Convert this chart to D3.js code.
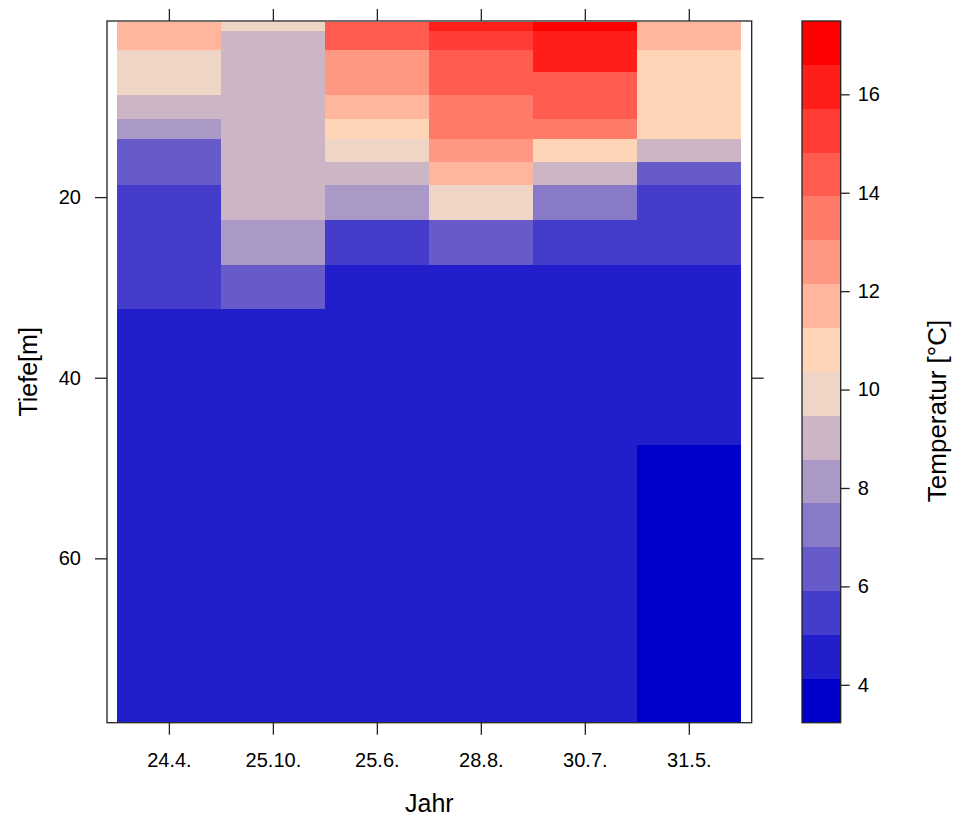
<!DOCTYPE html>
<html>
<head>
<meta charset="utf-8">
<script src="https://cdn.jsdelivr.net/npm/d3@7"></script>
<style>
  html, body { margin: 0; padding: 0; background: #fff; }
  svg { display: block; }
  text { font-family: "Liberation Sans", Arial, sans-serif; fill: #000; }
</style>
</head>
<body>
<svg id="chart" width="956" height="816"></svg>
<script>
// ---------------- data ----------------
const dates = ["24.4.", "25.10.", "25.6.", "28.8.", "30.7.", "31.5."];
// depth layer edges [m]
const depthEdges = [0.6, 1.6, 3.7, 6.2, 8.7, 11.3, 13.6, 16.1, 18.7, 22.5, 27.5, 32.4, 47.4, 78.1];
// temperatures [°C] per layer (top to bottom) for each date
const temp_24_4  = [11.6, 11.5, 10.0, 9.8, 9.0, 8.1, 6.4, 6.2, 5.5, 5.3, 5.2, 4.6, 4.4];
const temp_25_10 = [9.7, 9.2, 9.1, 9.1, 9.0, 9.0, 9.0, 8.9, 8.8, 8.2, 6.5, 4.7, 4.5];
const temp_25_6  = [14.5, 14.2, 12.8, 12.5, 11.7, 10.8, 9.9, 9.1, 8.2, 5.5, 4.9, 4.6, 4.4];
const temp_28_8  = [16.2, 15.3, 14.6, 14.1, 13.6, 13.2, 12.4, 11.5, 9.8, 6.3, 4.9, 4.6, 4.4];
const temp_30_7  = [16.9, 16.3, 16.0, 14.6, 14.2, 13.4, 10.9, 9.1, 7.3, 5.6, 4.9, 4.5, 4.3];
const temp_31_5  = [11.9, 11.6, 11.1, 10.9, 10.8, 10.7, 9.0, 6.4, 5.7, 5.3, 4.8, 4.3, 4.0];
const depthTicks = [20, 40, 60];
const keyTicks = [4, 6, 8, 10, 12, 14, 16];
const keyRange = [3.23, 17.49];
const nBands = 16;
const paletteAnchors = ["#0000CD", "#FFE4C4", "#FF0000"]; // blue3 -> bisque -> red

const tempSeries = [temp_24_4, temp_25_10, temp_25_6, temp_28_8, temp_30_7, temp_31_5];
const cells = [];
dates.forEach((d, i) => {
  tempSeries[i].forEach((t, j) => {
    cells.push({ date: d, top: depthEdges[j], bottom: depthEdges[j + 1], value: t });
  });
});

// ---------------- layout ----------------
const svg = d3.select("#chart");
const P = { left: 107, right: 751.7, top: 21, bottom: 722.7 };

const x = d3.scaleBand().domain(dates).range([P.left, P.right]).paddingInner(0).paddingOuter(0.1);
const y = d3.scaleLinear().domain([0.5, 78.2]).range([P.top, P.bottom]);

const breaks = d3.range(nBands + 1).map(i => keyRange[0] + i * (keyRange[1] - keyRange[0]) / nBands);
const ramp = d3.piecewise(d3.interpolateRgb, paletteAnchors);
const colors = d3.range(nBands).map(i => ramp(i / (nBands - 1)));
const color = d3.scaleThreshold().domain(breaks.slice(1, -1)).range(colors);

// cells
svg.append("g")
  .selectAll("rect")
  .data(cells)
  .join("rect")
  .attr("x", d => x(d.date))
  .attr("width", x.bandwidth())
  .attr("y", d => y(d.top))
  .attr("height", d => y(d.bottom) - y(d.top))
  .attr("fill", d => color(d.value))
  .attr("shape-rendering", "crispEdges");

// axes
const fs = 20;
const gL = svg.append("g").attr("transform", `translate(${P.left},0)`)
  .call(d3.axisLeft(y).tickValues(depthTicks).tickSize(12).tickPadding(14));
const gR = svg.append("g").attr("transform", `translate(${P.right},0)`)
  .call(d3.axisRight(y).tickValues(depthTicks).tickSize(12).tickFormat(""));
const gB = svg.append("g").attr("transform", `translate(0,${P.bottom})`)
  .call(d3.axisBottom(x).tickSize(12).tickPadding(18));
const gT = svg.append("g").attr("transform", `translate(0,${P.top})`)
  .call(d3.axisTop(x).tickSize(12).tickFormat(""));
[gL, gR, gB, gT].forEach(g => {
  g.select(".domain").remove();
  g.selectAll(".tick line").attr("stroke", "#222").attr("stroke-width", 1.3);
  g.selectAll("text").attr("font-size", fs).attr("font-family", "Liberation Sans, Arial, sans-serif").attr("fill", "#000");
});

// frame
svg.append("rect")
  .attr("x", P.left).attr("y", P.top)
  .attr("width", P.right - P.left).attr("height", P.bottom - P.top)
  .attr("fill", "none").attr("stroke", "#222").attr("stroke-width", 1.3);

// axis titles
svg.append("text")
  .attr("transform", `translate(27.5,${(P.top + P.bottom) / 2}) rotate(-90)`)
  .attr("text-anchor", "middle").attr("dominant-baseline", "central")
  .attr("font-size", 25).text("Tiefe[m]");
svg.append("text")
  .attr("x", (P.left + P.right) / 2).attr("y", 803)
  .attr("text-anchor", "middle").attr("dominant-baseline", "central")
  .attr("font-size", 25).text("Jahr");

// colour key
const K = { left: 802, right: 840.7 };
const keyY = d3.scaleLinear().domain(keyRange).range([P.bottom, P.top]);
const bands = d3.range(nBands).map(i => ({ lo: breaks[i], hi: breaks[i + 1], c: colors[i] }));
svg.append("g")
  .selectAll("rect")
  .data(bands)
  .join("rect")
  .attr("x", K.left).attr("width", K.right - K.left)
  .attr("y", d => keyY(d.hi)).attr("height", d => keyY(d.lo) - keyY(d.hi))
  .attr("fill", d => d.c).attr("shape-rendering", "crispEdges");
svg.append("rect")
  .attr("x", K.left).attr("y", P.top)
  .attr("width", K.right - K.left).attr("height", P.bottom - P.top)
  .attr("fill", "none").attr("stroke", "#222").attr("stroke-width", 1.3);
const gK = svg.append("g").attr("transform", `translate(${K.right},0)`)
  .call(d3.axisRight(keyY).tickValues(keyTicks).tickSize(9).tickPadding(8));
gK.select(".domain").remove();
gK.selectAll(".tick line").attr("stroke", "#222").attr("stroke-width", 1.3);
gK.selectAll("text").attr("font-size", fs).attr("font-family", "Liberation Sans, Arial, sans-serif").attr("fill", "#000");

svg.append("text")
  .attr("transform", `translate(937,411) rotate(-90)`)
  .attr("text-anchor", "middle").attr("dominant-baseline", "central")
  .attr("font-family", "Open Sans, Noto Sans, sans-serif")
  .attr("font-size", 26).text("Temperatur [°C]");
</script>
</body>
</html>
